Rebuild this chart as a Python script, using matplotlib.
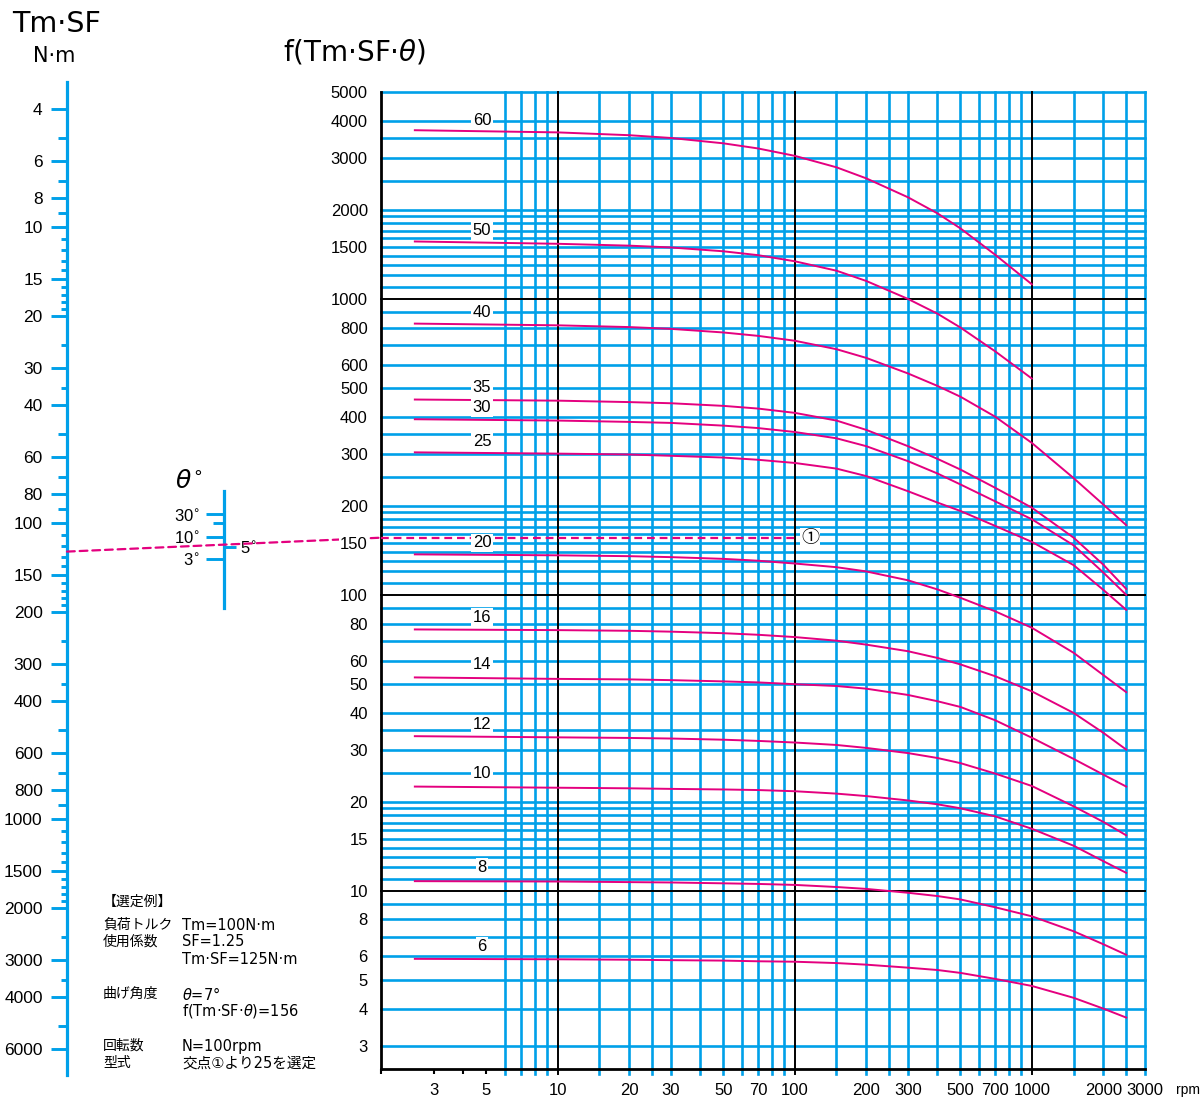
import matplotlib
matplotlib.use('Agg')
import numpy as np
import matplotlib.pyplot as plt
from matplotlib.patches import ConnectionPatch
from matplotlib.ticker import NullFormatter, NullLocator

plt.rcParams['font.family'] = ['Liberation Sans', 'DejaVu Sans']
plt.rcParams['mathtext.fontset'] = 'dejavusans'

BLUE = '#00a0e9'
PINK = '#e4007f'
JP = ['Noto Sans CJK JP', 'DejaVu Sans']
JP_LATIN = ['DejaVu Sans', 'Noto Sans CJK JP']
W, H = 1204, 1098

# ---- curve data: rpm vs f(Tm·SF·θ) for each size ----
rpm_short = [2.5, 10, 20, 30, 50, 70, 100, 150, 200, 300, 400, 500, 700, 1000]
f_60 = [3714, 3652, 3573, 3497, 3354, 3223, 3043, 2783, 2555, 2205, 1945, 1730, 1410, 1120]
f_50 = [1563, 1535, 1513, 1492, 1448, 1405, 1340, 1245, 1150, 1000, 891, 800, 665, 538]

rpm_long = [2.5, 10, 20, 30, 50, 70, 100, 150, 200, 300, 400, 500, 700, 1000, 1500, 2000, 2500]
f_40 = [825, 814, 803, 792, 770, 750, 722, 676, 632, 560, 508, 467, 400, 326, 248, 202, 172]
f_35 = [457, 453, 448, 444, 435, 426, 412, 388, 361, 318, 288, 265, 230, 197, 156, 126.5, 104.7]
f_30 = [392, 388, 384, 381, 373, 366, 355, 338, 318, 283, 257, 236, 207, 180, 147, 119, 100]
f_25 = [303, 300, 298, 295, 291, 286, 279, 267, 252, 224, 205, 192, 171, 151, 126, 104, 89]
f_20 = [137, 136, 135.1, 134.1, 132.3, 130.4, 127.6, 124, 120, 112, 104.3, 97.7, 88, 77.4, 63.7, 53.6, 46.9]
f_16 = [76.4, 76, 75.6, 75.1, 74.2, 73.3, 72, 70, 67.9, 64.5, 61.2, 58.2, 53.1, 47.2, 39.9, 34.2, 30.0]
f_14 = [52.6, 52, 51.8, 51.5, 51.0, 50.6, 49.9, 49.2, 48.2, 45.9, 43.7, 41.8, 37.7, 32.9, 27.9, 24.7, 22.5]
f_12 = [33.3, 33.0, 32.85, 32.7, 32.4, 32.1, 31.7, 31.1, 30.4, 29.2, 28.1, 27.0, 24.9, 22.6, 19.3, 17.1, 15.4]
f_10 = [22.5, 22.3, 22.2, 22.1, 22.0, 21.9, 21.7, 21.3, 20.9, 20.2, 19.6, 19.0, 17.85, 16.2, 14.2, 12.6, 11.5]
f_8 = [10.78, 10.75, 10.7, 10.67, 10.6, 10.55, 10.47, 10.3, 10.15, 9.85, 9.6, 9.35, 8.8, 8.2, 7.3, 6.6, 6.08]
f_6 = [5.89, 5.87, 5.85, 5.83, 5.81, 5.78, 5.76, 5.70, 5.63, 5.50, 5.40, 5.28, 5.04, 4.77, 4.35, 4.0, 3.73]

sizes = [60, 50, 40, 35, 30, 25, 20, 16, 14, 12, 10, 8, 6]
label_f = [4000, 1700, 900, 500, 430, 330, 150, 84, 58, 36.5, 25, 12, 6.5]
label_rpm = 4.8

# ---- axes ticks / grid ----
f_ticks = [5000, 4000, 3000, 2000, 1500, 1000, 800, 600, 500, 400, 300, 200, 150,
           100, 80, 60, 50, 40, 30, 20, 15, 10, 8, 6, 5, 4, 3]
f_grid = ([3, 4, 5, 6, 7, 8, 9] + list(range(11, 20)) + [20, 25, 30, 35, 40, 50, 60, 70, 80, 90]
          + list(range(110, 200, 10)) + [200, 250, 300, 350, 400, 500, 600, 700, 800, 900]
          + list(range(1100, 2000, 100)) + [2000, 2500, 3000, 3500, 4000, 5000])
f_dark = [10, 100, 1000]
rpm_ticks = [3, 5, 10, 20, 30, 50, 70, 100, 200, 300, 500, 700, 1000, 2000, 3000]
rpm_grid = [6, 7, 8, 9, 15, 20, 25, 30, 40, 50, 60, 70, 80, 90, 150, 200, 250, 300,
            400, 500, 600, 700, 800, 900, 1500, 2000, 2500, 3000]
rpm_dark = [10, 100, 1000]
rpm_minor = [1.8, 3, 4, 5]

# Tm·SF scale
tm_major = [4, 6, 8, 10, 15, 20, 30, 40, 60, 80, 100, 150, 200, 300, 400, 600, 800,
            1000, 1500, 2000, 3000, 4000, 6000]
tm_mid = [5, 7, 9, 50, 70, 90, 500, 700, 900, 5000]
tm_short = [11, 12, 13, 14, 16, 17, 18, 19, 25, 35, 110, 120, 130, 140, 160, 170, 180, 190,
            250, 350, 1100, 1200, 1300, 1400, 1600, 1700, 1800, 1900, 2500, 3500]

# θ scale (angle -> factor f / Tm·SF)
theta_left = ['30', '10', '3']
theta_left_factor = [2.0, 1.4, 1.0]
theta_minor_factor = [1.74]
theta_right = ['5']
theta_right_factor = [1.21]

# selection example
ex_tmsf = 125
ex_f = 156
ex_rpm = 100

# ---- layout (pixels) ----
MAIN = (381, 92, 1145, 1069)
X_LIM = (1.8, 3000)
Y_LIM = (2.5, 5000)
NOMO_C = 17500.0
dec = (MAIN[3] - MAIN[1]) / np.log10(Y_LIM[1] / Y_LIM[0])


def f_at(py):
    return Y_LIM[1] * 10 ** (-(py - MAIN[1]) / dec)


def rect(x0, y0, x1, y1):
    return [x0 / W, 1 - y1 / H, (x1 - x0) / W, (y1 - y0) / H]


def fx(px):
    return px / W


def fy(py):
    return 1 - py / H


fig = plt.figure(figsize=(W / 100, H / 100), dpi=100)
fig.patch.set_facecolor('white')


def bare(a):
    a.patch.set_visible(False)
    for s in a.spines.values():
        s.set_visible(False)
    a.set_xticks([])
    a.set_xlim(0, 1)


# left Tm·SF scale
ax_tm = fig.add_axes(rect(67, 82, 68, 1075))
bare(ax_tm)
ax_tm.spines['left'].set_visible(True)
ax_tm.spines['left'].set_color(BLUE)
ax_tm.spines['left'].set_linewidth(2.3)
ax_tm.set_yscale('log')
ax_tm.set_ylim(NOMO_C / f_at(1075), NOMO_C / f_at(82))
ax_tm.set_yticks(tm_major, labels=[str(v) for v in tm_major])
ax_tm.set_yticks(tm_mid, minor=True)
ax_tm.yaxis.set_minor_formatter(NullFormatter())
ax_tm.tick_params(axis='y', which='major', length=11.5, width=2.1, color=BLUE,
                  labelsize=12.5, pad=6)
ax_tm.tick_params(axis='y', which='minor', length=6.8, width=2.1, color=BLUE)

ax_tm2 = fig.add_axes(rect(67, 82, 68, 1075))
bare(ax_tm2)
ax_tm2.set_yscale('log')
ax_tm2.set_ylim(NOMO_C / f_at(1075), NOMO_C / f_at(82))
ax_tm2.yaxis.set_major_locator(NullLocator())
ax_tm2.set_yticks(tm_short, minor=True)
ax_tm2.yaxis.set_minor_formatter(NullFormatter())
ax_tm2.tick_params(axis='y', which='minor', length=4.2, width=2.1, color=BLUE)

# θ scale
th_lim = (f_at(608) ** 2 / NOMO_C, f_at(491) ** 2 / NOMO_C)
ax_th = fig.add_axes(rect(224, 491, 225, 608))
bare(ax_th)
ax_th.spines['left'].set_visible(True)
ax_th.spines['left'].set_color(BLUE)
ax_th.spines['left'].set_linewidth(2.3)
ax_th.set_yscale('log')
ax_th.set_ylim(*th_lim)
ax_th.set_yticks(theta_left_factor, labels=[t + r'$^{\circ}$' for t in theta_left])
ax_th.set_yticks(theta_minor_factor, minor=True)
ax_th.yaxis.set_minor_formatter(NullFormatter())
ax_th.tick_params(axis='y', which='major', length=13, width=2.1, color=BLUE,
                  labelsize=12, pad=4.5)
ax_th.tick_params(axis='y', which='minor', length=8, width=2.1, color=BLUE)

ax_th2 = fig.add_axes(rect(224, 491, 225, 608))
bare(ax_th2)
ax_th2.set_yscale('log')
ax_th2.set_ylim(*th_lim)
ax_th2.yaxis.tick_right()
ax_th2.set_yticks(theta_right_factor, labels=[t + r'$^{\circ}$' for t in theta_right])
ax_th2.yaxis.set_minor_locator(NullLocator())
ax_th2.tick_params(axis='y', which='major', length=8.6, width=2.1, color=BLUE,
                   labelsize=12, pad=3)
ax_th2.spines['right'].set_position(('axes', 0))

fig.text(fx(189), fy(481), r'$\theta^{\circ}$', fontsize=18, ha='center', va='center')

# main chart
ax = fig.add_axes(rect(*MAIN))
ax.set_xscale('log')
ax.set_yscale('log')
ax.set_xlim(*X_LIM)
ax.set_ylim(*Y_LIM)
below = -5 / (MAIN[3] - MAIN[1])

for v in f_grid:
    ax.axhline(v, color=BLUE, lw=1.9, zorder=1, clip_on=False)
for v in f_dark:
    ax.axhline(v, color='black', lw=1.4, zorder=1.6, clip_on=False)
for v in rpm_grid:
    ax.axvline(v, ymin=below, color=BLUE, lw=1.9, zorder=1.2, clip_on=False)
for v in rpm_dark:
    ax.axvline(v, ymin=below, color='black', lw=1.4, zorder=1.7, clip_on=False)

for s in ['top', 'right']:
    ax.spines[s].set_visible(False)
for s in ['left', 'bottom']:
    ax.spines[s].set_linewidth(2.0)
    ax.spines[s].set_color('black')

ax.set_yticks(f_ticks, labels=[str(v) for v in f_ticks])
ax.yaxis.set_minor_locator(NullLocator())
ax.tick_params(axis='y', which='major', length=0, pad=9.5, labelsize=12)
for t in ax.get_yticklabels():
    if t.get_text() == '150':
        t.set_bbox(dict(fc='white', ec='none', pad=0.8))

ax.xaxis.remove_overlapping_locs = False
ax.set_xticks(rpm_ticks, labels=[str(v) for v in rpm_ticks])
ax.set_xticks(rpm_minor, minor=True)
ax.xaxis.set_minor_formatter(NullFormatter())
ax.tick_params(axis='x', which='major', length=0, pad=10, labelsize=12)
ax.tick_params(axis='x', which='minor', length=3.6, width=1.5, color='black')

curves = [(rpm_short, f_60), (rpm_short, f_50), (rpm_long, f_40), (rpm_long, f_35),
          (rpm_long, f_30), (rpm_long, f_25), (rpm_long, f_20), (rpm_long, f_16),
          (rpm_long, f_14), (rpm_long, f_12), (rpm_long, f_10), (rpm_long, f_8),
          (rpm_long, f_6)]
for r, f in curves:
    ax.plot(r, f, color=PINK, lw=1.4, zorder=3, solid_joinstyle='round')
for size, ly in zip(sizes, label_f):
    ax.text(label_rpm, ly, str(size), ha='center', va='center', fontsize=12, zorder=4,
            bbox=dict(fc='white', ec='none', pad=1.2))

# selection example: dashed line through the nomogram and into the chart
ax.plot([X_LIM[0], ex_rpm], [ex_f, ex_f], color=PINK, lw=1.6, dashes=(3.5, 2.2), zorder=3.5)
ax.text(ex_rpm * 1.16, ex_f, '①', fontfamily=JP, fontsize=13, ha='center', va='center',
        zorder=4, bbox=dict(fc='white', ec='none', pad=0.5))
con = ConnectionPatch(xyA=(0, ex_tmsf), coordsA='data', axesA=ax_tm,
                      xyB=(X_LIM[0], ex_f), coordsB='data', axesB=ax,
                      color=PINK, lw=1.6, linestyle=(0, (3.5, 2.2)), zorder=5)
ax_th2.add_artist(con)

fig.text(fx(1188), fy(1090), 'rpm', fontsize=10, ha='center', va='center')

# titles
fig.text(fx(57), fy(24), 'Tm·SF', fontfamily='DejaVu Sans', fontsize=20.5,
         ha='center', va='center')
fig.text(fx(54), fy(56), 'N·m', fontfamily='DejaVu Sans', fontsize=15,
         ha='center', va='center')
fig.text(fx(283), fy(52), r'f(Tm·SF·$\theta$)', fontfamily='DejaVu Sans', fontsize=20,
         ha='left', va='center')

# selection example notes
notes_left = [
    (902, '【選定例】'),
    (925, '負荷トルク'), (942, '使用係数'),
    (994, '曲げ角度'),
    (1046, '回転数'), (1063, '型式'),
]
notes_right = [
    (925, 'Tm=100N·m'), (942, 'SF=1.25'), (959, 'Tm·SF=125N·m'),
    (994, r'$\theta$=7°'), (1011, r'f(Tm·SF·$\theta$)=156'),
    (1046, 'N=100rpm'), (1063, '交点①より25を選定'),
]
for y, s in notes_left:
    fig.text(fx(103), fy(y), s, fontfamily=JP, fontsize=10, ha='left', va='center')
for y, s in notes_right:
    fig.text(fx(182), fy(y), s, fontfamily=JP_LATIN, fontsize=10.5, ha='left', va='center')

fig.savefig('out.png', dpi=100, facecolor='white')
